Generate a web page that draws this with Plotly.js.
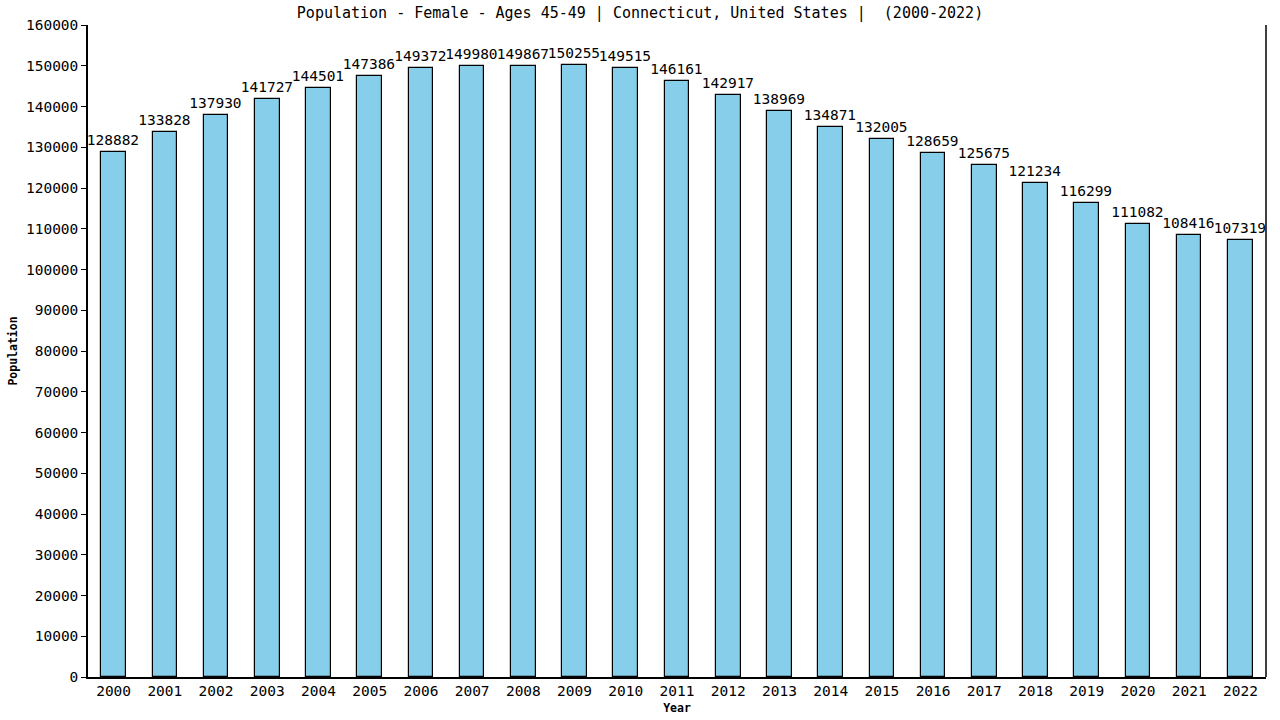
<!DOCTYPE html>
<html>
<head>
<meta charset="utf-8">
<script src="https://cdn.plot.ly/plotly-3.0.1.min.js"></script>
<style>
  html, body { margin: 0; padding: 0; background: #fff; }
  #chart { width: 1280px; height: 720px; }
</style>
</head>
<body>
<div id="chart"></div>
<script>
const years = ["2000", "2001", "2002", "2003", "2004", "2005", "2006", "2007", "2008", "2009", "2010", "2011",
  "2012", "2013", "2014", "2015", "2016", "2017", "2018", "2019", "2020", "2021", "2022"];
const population = [128882, 133828, 137930, 141727, 144501, 147386, 149372, 149980, 149867, 150255, 149515, 146161,
  142917, 138969, 134871, 132005, 128659, 125675, 121234, 116299, 111082, 108416, 107319];
const yTicks = [0, 10000, 20000, 30000, 40000, 50000, 60000, 70000, 80000, 90000, 100000,
  110000, 120000, 130000, 140000, 150000, 160000];

const FONT = "DejaVu Sans Mono, monospace";

const trace = {
  type: "bar",
  x: years,
  y: population,
  width: 0.48,
  marker: {
    color: "#87ceeb",
    line: { color: "#000000", width: 1.2 }
  },
  text: population.map(String),
  textposition: "outside",
  constraintext: "none",
  cliponaxis: false,
  textfont: { family: FONT, size: 14.5, color: "#000" },
  hoverinfo: "x+y"
};

const layout = {
  width: 1280,
  height: 720,
  paper_bgcolor: "#ffffff",
  plot_bgcolor: "#ffffff",
  font: { family: FONT, color: "#000", size: 14 },
  margin: { l: 88, r: 14, t: 25, b: 43 },
  showlegend: false,
  bargap: 0,
  title: {
    text: "Population - Female - Ages 45-49 | Connecticut, United States |  (2000-2022)",
    font: { family: FONT, size: 15, color: "#000" },
    x: 0.5,
    xanchor: "center",
    y: 0.982,
    yanchor: "middle"
  },
  xaxis: {
    type: "category",
    range: [-0.5, 22.5],
    showline: true,
    linecolor: "#000",
    linewidth: 1.5,
    ticks: "",
    showgrid: false,
    zeroline: false,
    tickfont: { family: FONT, size: 14.5, color: "#000" },
    title: {
      text: "Year",
      font: { family: FONT, size: 11.5, color: "#000", weight: "bold" },
      standoff: 6
    }
  },
  yaxis: {
    range: [0, 160000],
    tickmode: "array",
    tickvals: yTicks,
    ticktext: yTicks.map(String),
    showline: true,
    linecolor: "#000",
    linewidth: 1.5,
    ticks: "outside",
    ticklen: 5,
    tickcolor: "#000",
    showgrid: false,
    zeroline: false,
    tickfont: { family: FONT, size: 14.5, color: "#000" },
    title: {
      text: "Population",
      font: { family: FONT, size: 11.5, color: "#000", weight: "bold" },
      standoff: 6
    }
  },
  shapes: [
    { type: "line", xref: "paper", yref: "paper", x0: 1, x1: 1, y0: 0, y1: 1,
      line: { color: "#000", width: 1.5 } }
  ]
};

Plotly.newPlot("chart", [trace], layout, { displayModeBar: false, responsive: false });
</script>
</body>
</html>
